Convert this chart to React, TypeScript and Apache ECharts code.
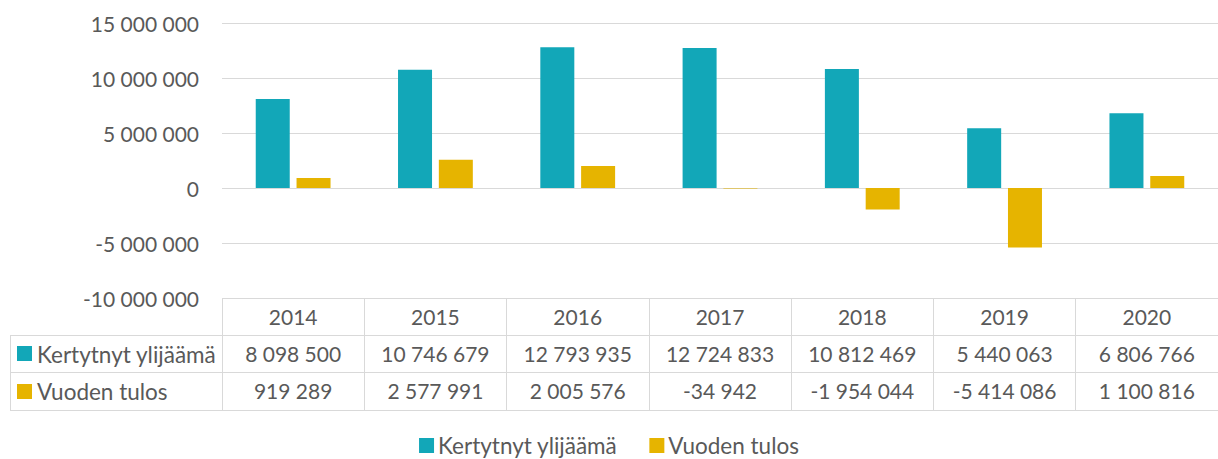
import React, { useEffect, useRef } from "react";
import * as echarts from "echarts";

const years = ["2014", "2015", "2016", "2017", "2018", "2019", "2020"];
const kertynyt = [8098500, 10746679, 12793935, 12724833, 10812469, 5440063, 6806766];
const tulos = [919289, 2577991, 2005576, -34942, -1954044, -5414086, 1100816];
const seriesNames = ["Kertytnyt ylijäämä", "Vuoden tulos"];
const colors = ["#12A7B8", "#E6B400"];

const fmt = (n: number): string => {
  const s = Math.abs(Math.round(n)).toString();
  const parts: string[] = [];
  for (let i = s.length; i > 0; i -= 3) parts.unshift(s.slice(Math.max(0, i - 3), i));
  return (n < 0 ? "-" : "") + parts.join(" ");
};

const FONT = "Lato";
const TXT = "#595959";
const LINE = "#d9d9d9";
const FS = 21;
const FS_WORD = 22.5;

export default function App() {
  const ref = useRef<HTMLDivElement>(null);
  useEffect(() => {
    if (!ref.current) return;
    const chart = echarts.init(ref.current, null, { renderer: "svg" });
    const gridTop = 23;
    const gridBottomY = 298;
    const rowH = [37, 74, 112];
    const labelStyle = { fontFamily: FONT, fontSize: FS, color: TXT, margin: 8 };
    chart.setOption({
      animation: false,
      textStyle: { fontFamily: FONT, color: TXT },
      grid: { left: 222, right: 0, top: gridTop, bottom: 459 - gridBottomY },
      legend: {
        top: 434,
        left: "center",
        padding: 0,
        itemWidth: 15,
        itemHeight: 15,
        itemGap: 32,
        icon: "rect",
        textStyle: { fontFamily: FONT, fontSize: FS_WORD, lineHeight: 21, color: TXT, padding: [0, 0, 0, -1] },
        data: seriesNames,
      },
      xAxis: [
        {
          type: "category",
          data: years,
          position: "bottom",
          axisLine: { show: false, onZero: false },
          axisTick: { show: true, interval: 0, length: rowH[2], lineStyle: { color: LINE, width: 1 } },
          axisLabel: labelStyle,
        },
        {
          type: "category",
          data: kertynyt.map(fmt),
          position: "bottom",
          offset: rowH[0],
          axisLine: { show: true, onZero: false, lineStyle: { color: LINE, width: 1 } },
          axisTick: { show: false },
          axisLabel: labelStyle,
        },
        {
          type: "category",
          data: tulos.map(fmt),
          position: "bottom",
          offset: rowH[1],
          axisLine: { show: true, onZero: false, lineStyle: { color: LINE, width: 1 } },
          axisTick: { show: false },
          axisLabel: labelStyle,
        },
        {
          type: "category",
          data: years,
          position: "bottom",
          offset: rowH[2],
          axisLine: { show: true, onZero: false, lineStyle: { color: LINE, width: 1 } },
          axisTick: { show: false },
          axisLabel: { show: false },
        },
      ],
      yAxis: {
        type: "value",
        min: -10000000,
        max: 15000000,
        interval: 5000000,
        axisLine: { show: false },
        axisTick: { show: false },
        splitLine: { lineStyle: { color: LINE, width: 1 } },
        axisLabel: { fontFamily: FONT, fontSize: FS, color: TXT, margin: 23, formatter: (v: number) => fmt(v) },
      },
      series: [
        {
          name: seriesNames[0],
          type: "bar",
          xAxisIndex: 0,
          data: kertynyt,
          barWidth: 34,
          barGap: "20%",
          itemStyle: { color: colors[0] },
        },
        {
          name: seriesNames[1],
          type: "bar",
          xAxisIndex: 0,
          data: tulos,
          barWidth: 34,
          barGap: "20%",
          itemStyle: { color: colors[1] },
        },
      ],
      graphic: [
        { type: "line", shape: { x1: 10, y1: 335.5, x2: 222, y2: 335.5 }, style: { stroke: LINE, lineWidth: 1 } },
        { type: "line", shape: { x1: 10, y1: 372.5, x2: 222, y2: 372.5 }, style: { stroke: LINE, lineWidth: 1 } },
        { type: "line", shape: { x1: 10, y1: 410.5, x2: 222, y2: 410.5 }, style: { stroke: LINE, lineWidth: 1 } },
        { type: "line", shape: { x1: 10.5, y1: 335, x2: 10.5, y2: 411 }, style: { stroke: LINE, lineWidth: 1 } },
        { type: "rect", shape: { x: 17, y: 346, width: 15, height: 15 }, style: { fill: colors[0] } },
        { type: "rect", shape: { x: 17, y: 384, width: 15, height: 15 }, style: { fill: colors[1] } },
        {
          type: "text",
          x: 37,
          y: 354,
          style: { text: seriesNames[0], font: `${FS_WORD}px ${FONT}`, fill: TXT, verticalAlign: "middle", align: "left" },
        },
        {
          type: "text",
          x: 37,
          y: 391,
          style: { text: seriesNames[1], font: `${FS_WORD}px ${FONT}`, fill: TXT, verticalAlign: "middle", align: "left" },
        },
      ],
    });
    return () => chart.dispose();
  }, []);
  return <div ref={ref} style={{ position: "fixed", left: 0, top: 0, width: 1218, height: 459, background: "#fff" }} />;
}
